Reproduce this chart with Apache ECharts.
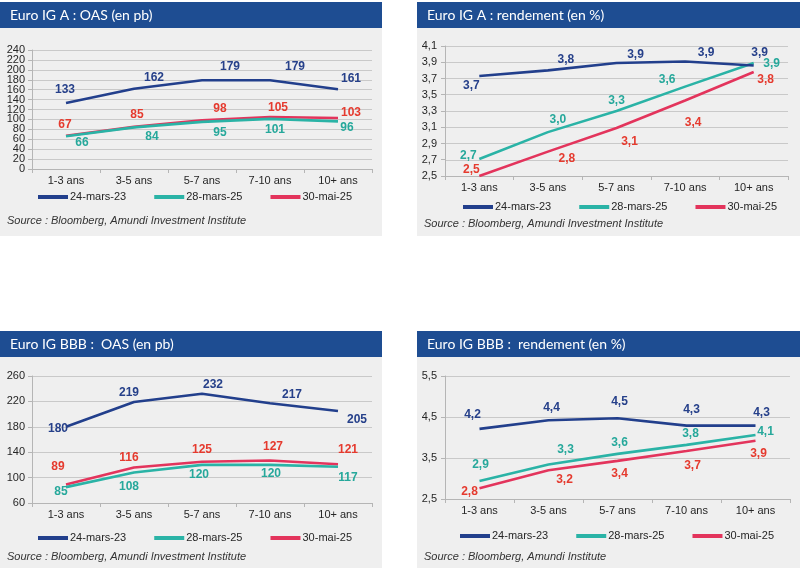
<!DOCTYPE html>
<html>
<head>
<meta charset="utf-8">
<script src="https://cdn.jsdelivr.net/npm/echarts@6/dist/echarts.min.js"></script>
<style>
body{margin:0;background:#fff;width:800px;height:572px;position:relative;overflow:hidden}
.p{position:absolute}
</style>
</head>
<body>
<div id="c1" class="p" style="left:0;top:2px;width:382px;height:234px"></div>
<div id="c2" class="p" style="left:417px;top:2px;width:383px;height:234px"></div>
<div id="c3" class="p" style="left:0;top:331px;width:382px;height:237px"></div>
<div id="c4" class="p" style="left:417px;top:331px;width:383px;height:237px"></div>
<script>
// donnees
var categories = ['1-3 ans', '3-5 ans', '5-7 ans', '7-10 ans', '10+ ans'];
var seriesNames = ['24-mars-23', '28-mars-25', '30-mai-25'];

var oasA_mar23 = [133, 162, 179, 179, 161];
var oasA_mar25 = [66, 84, 95, 101, 96];
var oasA_mai25 = [67, 85, 98, 105, 103];
var oasATicks = [0, 20, 40, 60, 80, 100, 120, 140, 160, 180, 200, 220, 240];

var yieldA_mar23 = [3.73, 3.80, 3.89, 3.91, 3.86];
var yieldA_mar25 = [2.71, 3.04, 3.30, 3.60, 3.89];
var yieldA_mai25 = [2.50, 2.80, 3.09, 3.43, 3.78];
var yieldATicks = [2.5, 2.7, 2.9, 3.1, 3.3, 3.5, 3.7, 3.9, 4.1];

var oasBBB_mar23 = [180, 219, 232, 217, 205];
var oasBBB_mar25 = [85, 108, 120, 120, 117];
var oasBBB_mai25 = [89, 116, 125, 127, 121];
var oasBBBTicks = [60, 100, 140, 180, 220, 260];

var yieldBBB_mar23 = [4.21, 4.42, 4.47, 4.29, 4.29];
var yieldBBB_mar25 = [2.94, 3.34, 3.60, 3.82, 4.06];
var yieldBBB_mai25 = [2.76, 3.20, 3.43, 3.67, 3.92];
var yieldBBBTicks = [2.5, 3.5, 4.5, 5.5];

// couleurs
var lineColors = ['#223f8c', '#2ab3a6', '#e3345c'];
var labelColors = ['#26408a', '#26a89b', '#e53a2e'];

function fmt(dec) {
    return function (v) {
        var n = typeof v === 'object' ? v.value : v;
        return dec ? n.toFixed(dec).replace('.', ',') : String(Math.round(n));
    };
}

function makePanel(id, cfg) {
    var chart = echarts.init(document.getElementById(id));
    var series = cfg.data.map(function (vals, s) {
        return {
            name: seriesNames[s],
            type: 'line',
            yAxisIndex: 0,
            data: vals.map(function (v, i) {
                return {value: v, label: {offset: cfg.offsets[s][i]}};
            }),
            symbol: 'circle',
            symbolSize: 0.1,
            showSymbol: true,
            lineStyle: {width: 2.6, color: lineColors[s]},
            itemStyle: {color: lineColors[s]},
            label: {
                show: true,
                position: 'inside',
                color: labelColors[s],
                fontFamily: 'Liberation Sans',
                fontWeight: 'bold',
                fontSize: 12,
                formatter: fmt(cfg.dec)
            },
            emphasis: {disabled: true},
            z: 3 - s
        };
    });
    // les etiquettes de l'axe Y sont reparties sur deux axes superposes
    // pour eviter que ECharts en masque certaines (trop rapprochees)
    var evenTicks = cfg.ticks.filter(function (t, i) { return i % 2 === 0; });
    var oddTicks = cfg.ticks.filter(function (t, i) { return i % 2 === 1; });
    var labelStyle = {
        margin: cfg.yMargin,
        fontFamily: 'Liberation Sans',
        fontSize: 11,
        color: '#262626',
        showMinLabel: true,
        showMaxLabel: true,
        formatter: fmt(cfg.dec)
    };
    var yMin = cfg.ticks[0], yMax = cfg.ticks[cfg.ticks.length - 1];
    chart.setOption({
        animation: false,
        backgroundColor: '#efefef',
        grid: cfg.grid,
        legend: {
            data: seriesNames,
            left: cfg.legendLeft,
            top: cfg.legendY - 7,
            padding: 0,
            icon: 'rect',
            itemWidth: 30,
            itemHeight: 4,
            itemGap: 28,
            textStyle: {fontFamily: 'Liberation Sans', fontSize: 11, color: '#262626', lineHeight: 14, padding: [0, 0, 0, -3]}
        },
        xAxis: {
            type: 'category',
            data: categories,
            boundaryGap: true,
            axisLine: {lineStyle: {color: '#b5b5b5'}},
            axisTick: {show: true, length: 4, lineStyle: {color: '#b5b5b5'}},
            axisLabel: {margin: 6, fontFamily: 'Liberation Sans', fontSize: 11, color: '#262626'}
        },
        yAxis: [{
            type: 'value',
            position: 'left',
            min: yMin,
            max: yMax,
            axisLine: {show: true, lineStyle: {color: '#b5b5b5'}},
            axisTick: {show: true, length: 4, lineStyle: {color: '#b5b5b5'}, customValues: cfg.ticks},
            axisLabel: Object.assign({customValues: evenTicks}, labelStyle),
            splitLine: {show: true, lineStyle: {color: '#c9c9c9', width: 1}}
        }, {
            type: 'value',
            position: 'left',
            offset: 0,
            min: yMin,
            max: yMax,
            axisLine: {show: false},
            axisTick: {show: false},
            axisLabel: Object.assign({show: oddTicks.length > 0, customValues: oddTicks.length ? oddTicks : [yMin]}, labelStyle),
            splitLine: {show: false}
        }],
        graphic: [
            {type: 'rect', left: 0, top: 0, shape: {width: cfg.width, height: 26}, style: {fill: '#1e4d92'}, z: 10},
            {type: 'text', left: 10, top: 6, style: {text: cfg.title, fill: '#fff', font: '14px Lato'}, z: 11},
            {type: 'text', left: 7, top: cfg.sourceY - 6, style: {text: cfg.source, fill: '#333', font: 'italic 11px "Liberation Sans"'}, z: 11}
        ],
        series: series
    });
}

makePanel('c1', {
    title: 'Euro IG A : OAS (en pb)',
    width: 382,
    data: [oasA_mar23, oasA_mar25, oasA_mai25],
    ticks: oasATicks,
    dec: 0,
    grid: {left: 32, right: 10, top: 48, bottom: 67},
    yMargin: 7,
    legendLeft: 38,
    legendY: 195,
    sourceY: 219,
    source: 'Source : Bloomberg, Amundi Investment Institute',
    offsets: [
        [[-1, -13], [20, -11], [28, -14], [25, -14], [13, -10]],
        [[16, 6], [18, 9], [18, 11], [5, 11], [9, 6]],
        [[-1, -11], [3, -12], [18, -12], [8, -9], [13, -5]]
    ]
});

makePanel('c2', {
    title: 'Euro IG A : rendement (en %)',
    width: 383,
    data: [yieldA_mar23, yieldA_mar25, yieldA_mai25],
    ticks: yieldATicks,
    dec: 1,
    grid: {left: 28, right: 12, top: 44, bottom: 60},
    yMargin: 8,
    legendLeft: 46,
    legendY: 205,
    sourceY: 222,
    source: 'Source : Bloomberg, Amundi Investment Institute',
    offsets: [
        [[-8, 10], [18, -11], [19, -8], [21, -9], [6, -13]],
        [[-11, -3], [10, -12], [0, -10], [-18, -7], [18, 1]],
        [[-8, -6], [19, 7], [13, 14], [8, 22], [12, 8]]
    ]
});

makePanel('c3', {
    title: 'Euro IG BBB :  OAS (en pb)',
    width: 382,
    data: [oasBBB_mar23, oasBBB_mar25, oasBBB_mai25],
    ticks: oasBBBTicks,
    dec: 0,
    grid: {left: 32, right: 10, top: 45, bottom: 65},
    yMargin: 7,
    legendLeft: 38,
    legendY: 207,
    sourceY: 226,
    source: 'Source : Bloomberg, Amundi Investment Institute',
    offsets: [
        [[-8, 2], [-5, -9], [11, -9], [22, -9], [19, 9]],
        [[-5, 5], [-5, 14], [-3, 10], [1, 9], [10, 11]],
        [[-8, -18], [-5, -10], [0, -12], [3, -14], [10, -15]]
    ]
});

makePanel('c4', {
    title: 'Euro IG BBB :  rendement (en %)',
    width: 383,
    data: [yieldBBB_mar23, yieldBBB_mar25, yieldBBB_mai25],
    ticks: yieldBBBTicks,
    dec: 1,
    grid: {left: 28, right: 10, top: 45, bottom: 69},
    yMargin: 8,
    legendLeft: 43,
    legendY: 205,
    sourceY: 226,
    source: 'Source : Bloomberg, Amundi Institute',
    offsets: [
        [[-7, -14], [3, -13], [2, -17], [5, -16], [6, -13]],
        [[1, -16], [17, -15], [2, -11], [4, -11], [10, -3]],
        [[-10, 3], [16, 9], [2, 13], [6, 15], [3, 13]]
    ]
});
</script>
</body>
</html>
